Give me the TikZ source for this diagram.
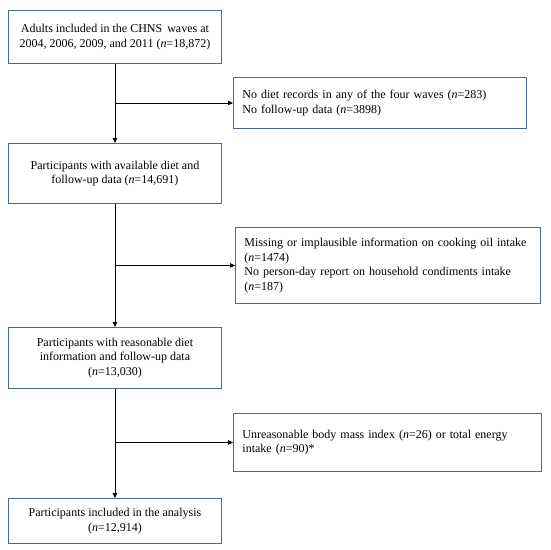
\documentclass[tikz,border=0pt]{standalone}
\usepackage{fontspec}
\setmainfont{Liberation Serif}
\usetikzlibrary{arrows.meta}
\definecolor{boxblue}{RGB}{72,104,158}
\begin{document}
\begin{tikzpicture}[x=1pt,y=-1pt,
  box/.style={draw=boxblue, line width=0.9pt, anchor=north west, inner sep=0pt,
    font=\fontsize{12}{14.5}\selectfont, fill=white},
  cbox/.style={box, align=center},
  lbox/.style={box, align=left, inner xsep=9pt},
  flow/.style={line width=0.9pt, black},
  arr/.style={flow, -{Triangle[length=5pt,width=4.5pt]}}]
\useasboundingbox (0,0) rectangle (550,550);
\fill[white] (0,0) rectangle (550,550);

\node[cbox, minimum width=213pt, minimum height=53pt] (b1) at (8,10)
  {Adults included in the CHNS\, waves at\\2004, 2006, 2009, and 2011 (\textit{n}=18,872)};
\node[lbox, minimum width=293pt, minimum height=51pt, text width=275pt] (b2) at (233,77)
  {No diet records in any of the four waves (\textit{n}=283)\\No follow-up data (\textit{n}=3898)};
\node[cbox, minimum width=213pt, minimum height=60pt] (b3) at (8,143)
  {Participants with available diet and\\follow-up data (\textit{n}=14,691)};
\node[lbox, minimum width=305pt, minimum height=76pt, text width=287pt] (b4) at (235,227)
  {Missing or implausible information on cooking oil intake\\(\textit{n}=1474)\\No person-day report on household condiments intake\\(\textit{n}=187)};
\node[cbox, minimum width=213pt, minimum height=61pt] (b5) at (8,327)
  {Participants with reasonable diet\\information and follow-up data\\(\textit{n}=13,030)};
\node[lbox, minimum width=308pt, minimum height=58pt, text width=290pt] (b6) at (233,413)
  {Unreasonable body mass index (\textit{n}=26) or total energy\\intake (\textit{n}=90)*};
\node[cbox, minimum width=213pt, minimum height=45pt] (b7) at (8,498)
  {Participants included in the analysis\\(\textit{n}=12,914)};

\coordinate (j1) at (b1.south |- b2.west);
\coordinate (j2) at (b3.south |- b4.west);
\coordinate (j3) at (b5.south |- b6.west);

\draw[arr] (b1.south) -- (b3.north);
\draw[arr] (j1) -- (b2.west);
\draw[arr] (b3.south) -- (b5.north);
\draw[arr] (j2) -- (b4.west);
\draw[arr] (b5.south) -- (b7.north);
\draw[arr] (j3) -- (b6.west);
\end{tikzpicture}
\end{document}
